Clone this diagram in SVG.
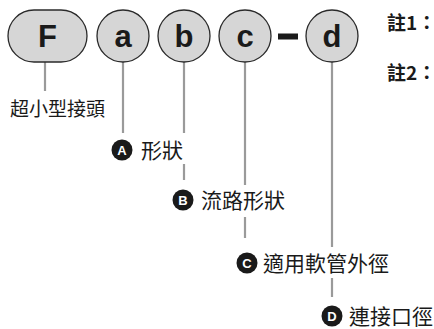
<svg xmlns="http://www.w3.org/2000/svg" width="434" height="329" viewBox="0 0 434 329">
<style>
.node{fill:#d6d6d6;stroke:#2a2a2a;stroke-width:1.3}
.ltr{font-family:"Liberation Sans",Arial,sans-serif;font-weight:bold;font-size:31px;fill:#1a1a1a;text-anchor:middle}
.conn line{stroke:#9a9a9a;stroke-width:2.2}
.lbl{font-family:"Noto Sans CJK TC","Noto Sans CJK SC",sans-serif;font-size:21px;fill:#1a1a1a}
.badge{fill:#1a1a1a}
.bl{font-family:"Liberation Sans",Arial,sans-serif;font-weight:bold;font-size:13px;fill:#fff;text-anchor:middle}
.note{font-family:"Noto Sans CJK TC","Noto Sans CJK SC",sans-serif;font-weight:bold;font-size:19px;fill:#1a1a1a}
</style>
<rect width="434" height="329" fill="#fff"/>
<g id="connectors" class="conn">
<line x1="45" y1="62" x2="45" y2="91"/>
<line x1="123" y1="62" x2="123" y2="133"/>
<line x1="184" y1="62" x2="184" y2="133"/>
<line x1="184" y1="164" x2="184" y2="180"/>
<line x1="245" y1="62" x2="245" y2="185"/>
<line x1="245" y1="217" x2="245" y2="238"/>
<line x1="332" y1="62" x2="332" y2="247"/>
<line x1="332" y1="278" x2="332" y2="297"/>
</g>
<g id="node-F"><rect class="node" x="8" y="10" width="79" height="52" rx="26"/><text class="ltr" x="47.5" y="47">F</text></g>
<g id="node-a"><circle class="node" cx="123" cy="36" r="26"/><text class="ltr" x="123" y="47">a</text></g>
<g id="node-b"><circle class="node" cx="184" cy="36" r="26"/><text class="ltr" x="184" y="47">b</text></g>
<g id="node-c"><circle class="node" cx="245" cy="36" r="26"/><text class="ltr" x="245" y="47">c</text></g>
<g id="dash"><rect x="278" y="33.5" width="20" height="6" fill="#1a1a1a"/></g>
<g id="node-d"><circle class="node" cx="332" cy="36" r="26"/><text class="ltr" x="332" y="47">d</text></g>
<g id="notes">
<text class="note" x="387" y="30">註1：</text>
<text class="note" x="387" y="80">註2：</text>
</g>
<g id="label-F"><text class="lbl" x="10" y="116" style="font-size:19px">超小型接頭</text></g>
<g id="label-A"><circle class="badge" cx="122" cy="150" r="10.5"/><text class="bl" x="122" y="154.5">A</text><text class="lbl" x="141" y="157.5">形狀</text></g>
<g id="label-B"><circle class="badge" cx="183" cy="200" r="10.5"/><text class="bl" x="183" y="204.5">B</text><text class="lbl" x="201" y="207.5">流路形狀</text></g>
<g id="label-C"><circle class="badge" cx="247" cy="263" r="10.5"/><text class="bl" x="247" y="267.5">C</text><text class="lbl" x="263" y="270.5">適用軟管外徑</text></g>
<g id="label-D"><circle class="badge" cx="332" cy="316" r="10.5"/><text class="bl" x="332" y="320.5">D</text><text class="lbl" x="349" y="323.5">連接口徑</text></g>
</svg>
